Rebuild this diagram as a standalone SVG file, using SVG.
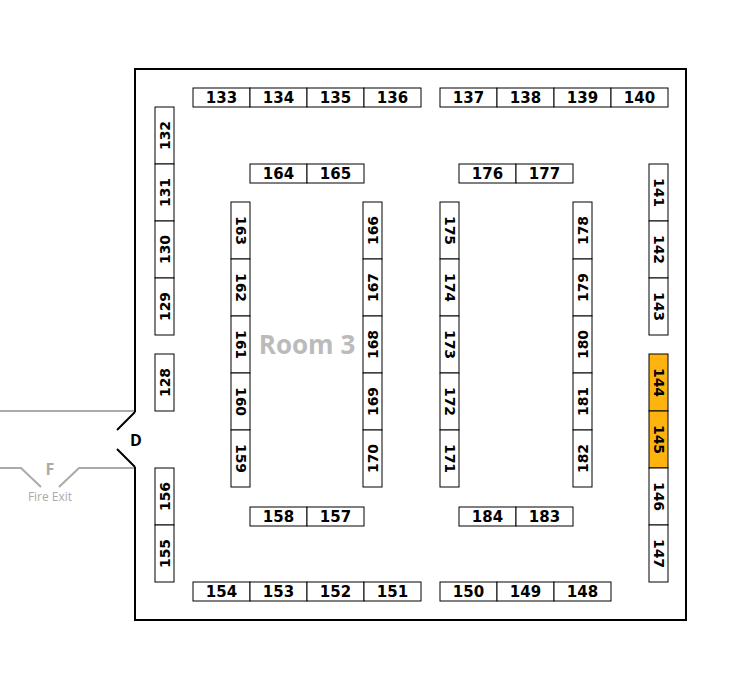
<svg xmlns="http://www.w3.org/2000/svg" width="755" height="689" viewBox="0 0 755 689">
<style>
.b{fill:#fff;stroke:#000;stroke-width:1}
.hl{fill:#FFB30F}
.t{font-family:"DejaVu Sans",Verdana,sans-serif;font-weight:bold;font-size:15px;fill:#000;text-anchor:middle}
.v{font-family:"DejaVu Sans",Verdana,sans-serif;font-weight:bold;font-size:14px;fill:#000;text-anchor:middle}
.wall{fill:none;stroke:#000;stroke-width:2}
.ext{fill:none;stroke:#aaa;stroke-width:2}
</style>
<rect width="755" height="689" fill="#fff"/>
<g id="walls">
<path class="wall" d="M135,412 L135,69 L686,69 L686,620 L135,620 L135,467"/>
<path class="wall" d="M135,412 L117,430 M117,449 L135,467"/>
<path class="ext" d="M0,411 L134,411 M0,468 L21,468 L41,487 M59,487 L79,468 L134,468"/>
</g>
<g id="labels">
<text x="136" y="446" font-family="Open Sans,sans-serif" font-weight="bold" font-size="16" text-anchor="middle">D</text>
<text x="50" y="475" font-family="Open Sans,sans-serif" font-weight="bold" font-size="16" fill="#aaa" text-anchor="middle">F</text>
<text x="50" y="501" font-family="Open Sans,sans-serif" font-size="12" fill="#aaa" text-anchor="middle">Fire Exit</text>
<text x="307" y="354" font-family="Open Sans,sans-serif" font-weight="bold" font-size="26" fill="#bbb" text-anchor="middle">Room 3</text>
</g>
<g id="connectors"></g>
<!-- top row -->
<g id="b133"><rect class="b" x="193" y="88" width="57" height="19"/><text class="t" x="221.5" y="103">133</text></g>
<g id="b134"><rect class="b" x="250" y="88" width="57" height="19"/><text class="t" x="278.5" y="103">134</text></g>
<g id="b135"><rect class="b" x="307" y="88" width="57" height="19"/><text class="t" x="335.5" y="103">135</text></g>
<g id="b136"><rect class="b" x="364" y="88" width="57" height="19"/><text class="t" x="392.5" y="103">136</text></g>
<g id="b137"><rect class="b" x="440" y="88" width="57" height="19"/><text class="t" x="468.5" y="103">137</text></g>
<g id="b138"><rect class="b" x="497" y="88" width="57" height="19"/><text class="t" x="525.5" y="103">138</text></g>
<g id="b139"><rect class="b" x="554" y="88" width="57" height="19"/><text class="t" x="582.5" y="103">139</text></g>
<g id="b140"><rect class="b" x="611" y="88" width="57" height="19"/><text class="t" x="639.5" y="103">140</text></g>
<!-- inner horizontals -->
<g id="b164"><rect class="b" x="250" y="164" width="57" height="19"/><text class="t" x="278.5" y="179">164</text></g>
<g id="b165"><rect class="b" x="307" y="164" width="57" height="19"/><text class="t" x="335.5" y="179">165</text></g>
<g id="b176"><rect class="b" x="459" y="164" width="57" height="19"/><text class="t" x="487.5" y="179">176</text></g>
<g id="b177"><rect class="b" x="516" y="164" width="57" height="19"/><text class="t" x="544.5" y="179">177</text></g>
<g id="b158"><rect class="b" x="250" y="507" width="57" height="19"/><text class="t" x="278.5" y="522">158</text></g>
<g id="b157"><rect class="b" x="307" y="507" width="57" height="19"/><text class="t" x="335.5" y="522">157</text></g>
<g id="b184"><rect class="b" x="459" y="507" width="57" height="19"/><text class="t" x="487.5" y="522">184</text></g>
<g id="b183"><rect class="b" x="516" y="507" width="57" height="19"/><text class="t" x="544.5" y="522">183</text></g>
<!-- bottom row -->
<g id="b154"><rect class="b" x="193" y="582" width="57" height="19"/><text class="t" x="221.5" y="597">154</text></g>
<g id="b153"><rect class="b" x="250" y="582" width="57" height="19"/><text class="t" x="278.5" y="597">153</text></g>
<g id="b152"><rect class="b" x="307" y="582" width="57" height="19"/><text class="t" x="335.5" y="597">152</text></g>
<g id="b151"><rect class="b" x="364" y="582" width="57" height="19"/><text class="t" x="392.5" y="597">151</text></g>
<g id="b150"><rect class="b" x="440" y="582" width="57" height="19"/><text class="t" x="468.5" y="597">150</text></g>
<g id="b149"><rect class="b" x="497" y="582" width="57" height="19"/><text class="t" x="525.5" y="597">149</text></g>
<g id="b148"><rect class="b" x="554" y="582" width="57" height="19"/><text class="t" x="582.5" y="597">148</text></g>
<!-- left wall column (rotate -90) -->
<g id="b132"><rect class="b" x="155" y="107" width="19" height="57"/><text class="v" transform="translate(164.5,135.5) rotate(-90)" y="5">132</text></g>
<g id="b131"><rect class="b" x="155" y="164" width="19" height="57"/><text class="v" transform="translate(164.5,192.5) rotate(-90)" y="5">131</text></g>
<g id="b130"><rect class="b" x="155" y="221" width="19" height="57"/><text class="v" transform="translate(164.5,249.5) rotate(-90)" y="5">130</text></g>
<g id="b129"><rect class="b" x="155" y="278" width="19" height="57"/><text class="v" transform="translate(164.5,306.5) rotate(-90)" y="5">129</text></g>
<g id="b128"><rect class="b" x="155" y="354" width="19" height="57"/><text class="v" transform="translate(164.5,382.5) rotate(-90)" y="5">128</text></g>
<g id="b156"><rect class="b" x="155" y="468" width="19" height="57"/><text class="v" transform="translate(164.5,496.5) rotate(-90)" y="5">156</text></g>
<g id="b155"><rect class="b" x="155" y="525" width="19" height="57"/><text class="v" transform="translate(164.5,553.5) rotate(-90)" y="5">155</text></g>
<!-- column 163-159 (rotate 90) -->
<g id="b163"><rect class="b" x="231" y="202" width="19" height="57"/><text class="v" transform="translate(240.5,230.5) rotate(90)" y="5">163</text></g>
<g id="b162"><rect class="b" x="231" y="259" width="19" height="57"/><text class="v" transform="translate(240.5,287.5) rotate(90)" y="5">162</text></g>
<g id="b161"><rect class="b" x="231" y="316" width="19" height="57"/><text class="v" transform="translate(240.5,344.5) rotate(90)" y="5">161</text></g>
<g id="b160"><rect class="b" x="231" y="373" width="19" height="57"/><text class="v" transform="translate(240.5,401.5) rotate(90)" y="5">160</text></g>
<g id="b159"><rect class="b" x="231" y="430" width="19" height="57"/><text class="v" transform="translate(240.5,458.5) rotate(90)" y="5">159</text></g>
<!-- column 166-170 (rotate -90) -->
<g id="b166"><rect class="b" x="363" y="202" width="19" height="57"/><text class="v" transform="translate(372.5,230.5) rotate(-90)" y="5">166</text></g>
<g id="b167"><rect class="b" x="363" y="259" width="19" height="57"/><text class="v" transform="translate(372.5,287.5) rotate(-90)" y="5">167</text></g>
<g id="b168"><rect class="b" x="363" y="316" width="19" height="57"/><text class="v" transform="translate(372.5,344.5) rotate(-90)" y="5">168</text></g>
<g id="b169"><rect class="b" x="363" y="373" width="19" height="57"/><text class="v" transform="translate(372.5,401.5) rotate(-90)" y="5">169</text></g>
<g id="b170"><rect class="b" x="363" y="430" width="19" height="57"/><text class="v" transform="translate(372.5,458.5) rotate(-90)" y="5">170</text></g>
<!-- column 175-171 (rotate 90) -->
<g id="b175"><rect class="b" x="440" y="202" width="19" height="57"/><text class="v" transform="translate(449.5,230.5) rotate(90)" y="5">175</text></g>
<g id="b174"><rect class="b" x="440" y="259" width="19" height="57"/><text class="v" transform="translate(449.5,287.5) rotate(90)" y="5">174</text></g>
<g id="b173"><rect class="b" x="440" y="316" width="19" height="57"/><text class="v" transform="translate(449.5,344.5) rotate(90)" y="5">173</text></g>
<g id="b172"><rect class="b" x="440" y="373" width="19" height="57"/><text class="v" transform="translate(449.5,401.5) rotate(90)" y="5">172</text></g>
<g id="b171"><rect class="b" x="440" y="430" width="19" height="57"/><text class="v" transform="translate(449.5,458.5) rotate(90)" y="5">171</text></g>
<!-- column 178-182 (rotate -90) -->
<g id="b178"><rect class="b" x="573" y="202" width="19" height="57"/><text class="v" transform="translate(582.5,230.5) rotate(-90)" y="5">178</text></g>
<g id="b179"><rect class="b" x="573" y="259" width="19" height="57"/><text class="v" transform="translate(582.5,287.5) rotate(-90)" y="5">179</text></g>
<g id="b180"><rect class="b" x="573" y="316" width="19" height="57"/><text class="v" transform="translate(582.5,344.5) rotate(-90)" y="5">180</text></g>
<g id="b181"><rect class="b" x="573" y="373" width="19" height="57"/><text class="v" transform="translate(582.5,401.5) rotate(-90)" y="5">181</text></g>
<g id="b182"><rect class="b" x="573" y="430" width="19" height="57"/><text class="v" transform="translate(582.5,458.5) rotate(-90)" y="5">182</text></g>
<!-- right wall column (rotate 90) -->
<g id="b141"><rect class="b" x="649" y="164" width="19" height="57"/><text class="v" transform="translate(658.5,192.5) rotate(90)" y="5">141</text></g>
<g id="b142"><rect class="b" x="649" y="221" width="19" height="57"/><text class="v" transform="translate(658.5,249.5) rotate(90)" y="5">142</text></g>
<g id="b143"><rect class="b" x="649" y="278" width="19" height="57"/><text class="v" transform="translate(658.5,306.5) rotate(90)" y="5">143</text></g>
<g id="b144"><rect class="b hl" x="649" y="354" width="19" height="57"/><text class="v" transform="translate(658.5,382.5) rotate(90)" y="5">144</text></g>
<g id="b145"><rect class="b hl" x="649" y="411" width="19" height="57"/><text class="v" transform="translate(658.5,439.5) rotate(90)" y="5">145</text></g>
<g id="b146"><rect class="b" x="649" y="468" width="19" height="57"/><text class="v" transform="translate(658.5,496.5) rotate(90)" y="5">146</text></g>
<g id="b147"><rect class="b" x="649" y="525" width="19" height="57"/><text class="v" transform="translate(658.5,553.5) rotate(90)" y="5">147</text></g>
</svg>
